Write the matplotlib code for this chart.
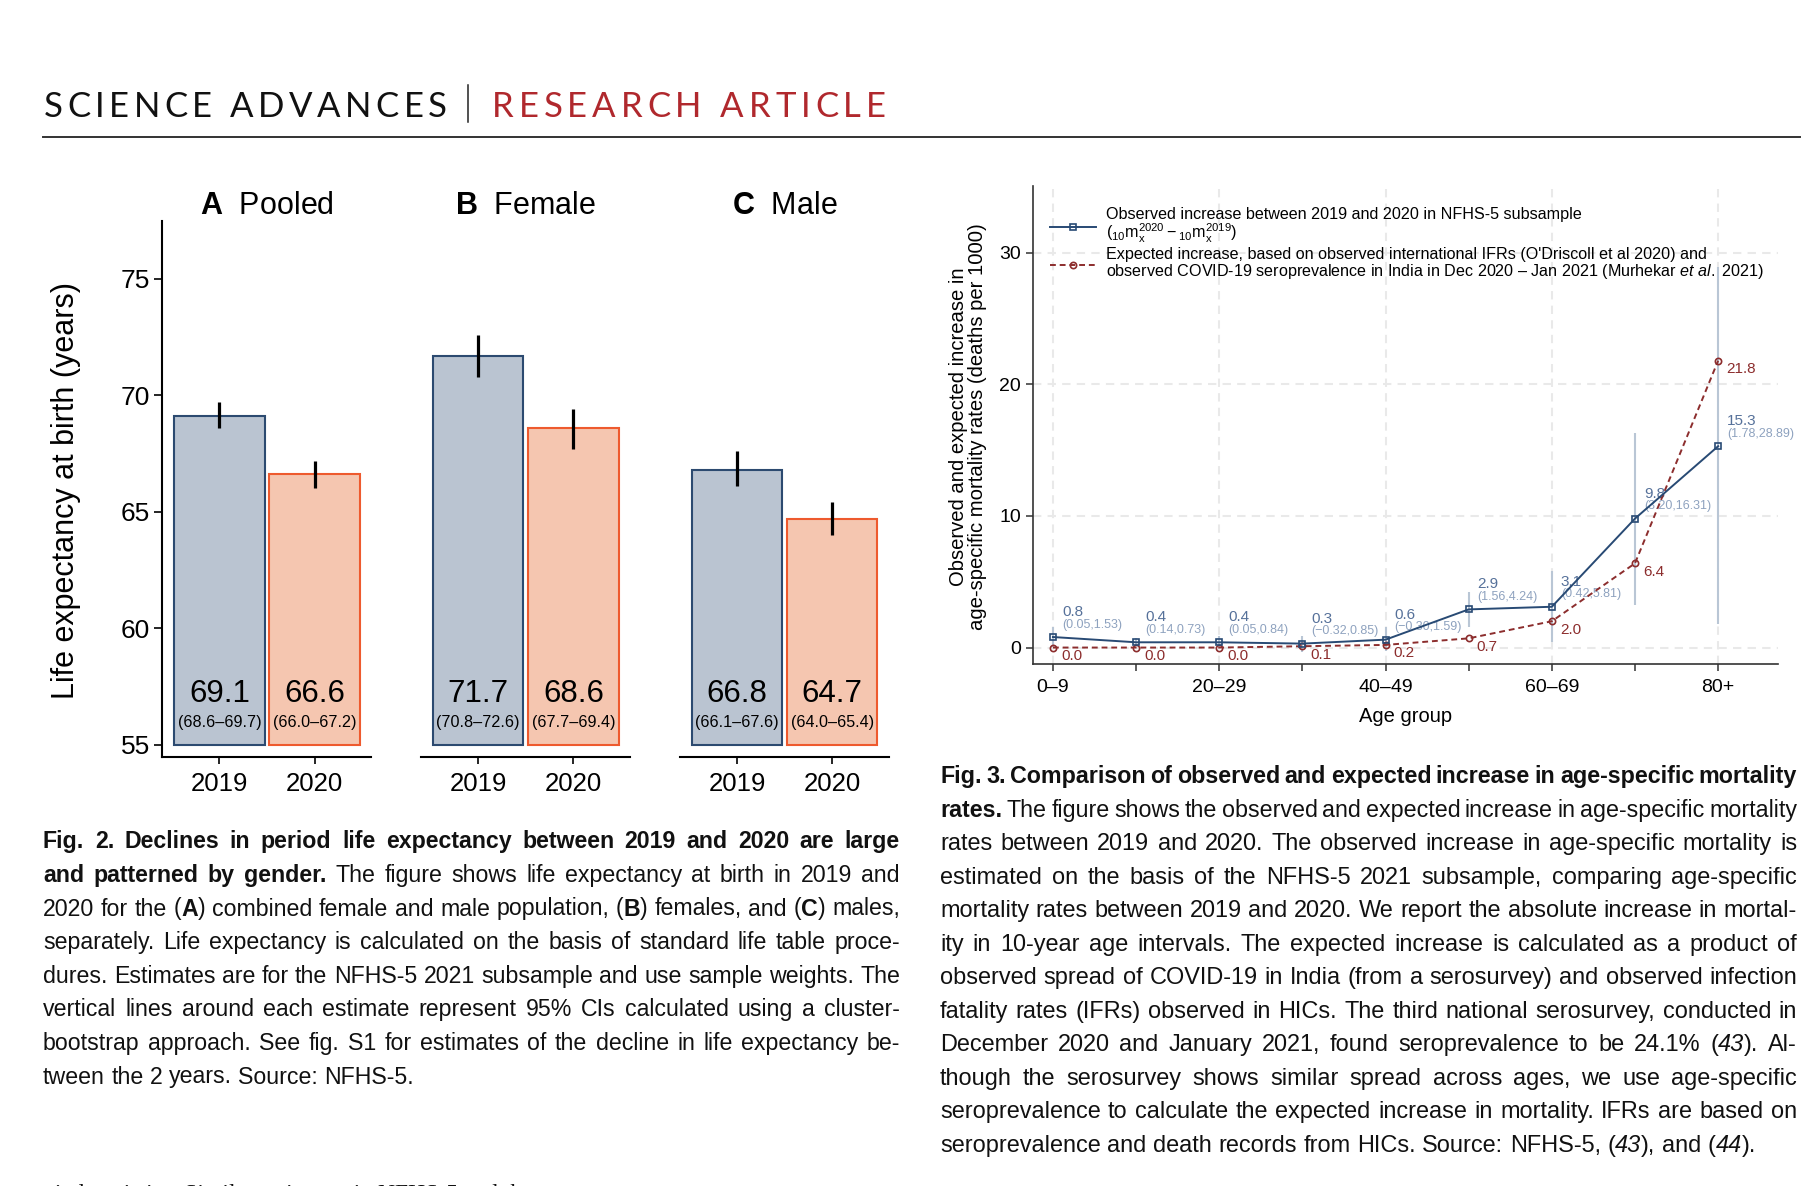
import matplotlib
matplotlib.use("Agg")
import matplotlib.pyplot as plt
from matplotlib.font_manager import FontProperties, fontManager
from matplotlib.lines import Line2D

W, H = 1820, 1186

# ---- Fig. 2 data: life expectancy at birth ----
panel_letters = ["A", "B", "C"]
panel_names = ["Pooled", "Female", "Male"]
years = ["2019", "2020"]
le_2019 = [69.1, 71.7, 66.8]
le_2019_lo = [68.6, 70.8, 66.1]
le_2019_hi = [69.7, 72.6, 67.6]
le_2020 = [66.6, 68.6, 64.7]
le_2020_lo = [66.0, 67.7, 64.0]
le_2020_hi = [67.2, 69.4, 65.4]

# ---- Fig. 3 data: increase in age-specific mortality (per 1000) ----
age_groups = ["0–9", "10–19", "20–29", "30–39", "40–49", "50–59", "60–69", "70–79", "80+"]
observed = [0.8, 0.4, 0.4, 0.3, 0.6, 2.9, 3.1, 9.8, 15.3]
obs_lo = [0.05, 0.14, 0.05, -0.32, -0.30, 1.56, 0.42, 3.20, 1.78]
obs_hi = [1.53, 0.73, 0.84, 0.85, 1.59, 4.24, 5.81, 16.31, 28.89]
expected = [0.0, 0.0, 0.0, 0.1, 0.2, 0.7, 2.0, 6.4, 21.8]

names = {f.name for f in fontManager.ttflist}
plot_font = "Liberation Sans" if "Liberation Sans" in names else "DejaVu Sans"
cap_font = plot_font
head_font = "Lato" if "Lato" in names else plot_font

plt.rcParams["font.family"] = [plot_font, "DejaVu Sans"]
plt.rcParams["mathtext.fontset"] = "custom"
plt.rcParams["mathtext.rm"] = plot_font
plt.rcParams["mathtext.it"] = plot_font + ":italic"
plt.rcParams["mathtext.bf"] = plot_font + ":bold"

fig = plt.figure(figsize=(W / 100, H / 100), dpi=100)
rend = fig.canvas.get_renderer()


def px_axes(x0, y0, x1, y1):
    return fig.add_axes([x0 / W, 1 - y1 / H, (x1 - x0) / W, (y1 - y0) / H])


def fx(x):
    return x / W


def fy(y):
    return 1 - y / H


def text_w(s, fp):
    w, h, d = rend.get_text_width_height_descent(s, fp, ismath=False)
    return w


# ---------------- header ----------------
def tracked(s, x0, x1, y, fp, color):
    sp = text_w("I I", fp) - text_w("II", fp)
    ws = [text_w(c, fp) if c != " " else sp for c in s]
    track = (x1 - x0 - sum(ws)) / (len(s) - 1)
    x = x0
    for c, w in zip(s, ws):
        if c != " ":
            fig.text(fx(x), fy(y), c, fontproperties=fp, color=color, va="baseline", ha="left")
        x += w + track


hfp = FontProperties(family=head_font, size=25)
tracked("SCIENCE ADVANCES", 44, 447, 117, hfp, "#111111")
tracked("RESEARCH ARTICLE", 492, 886, 117, hfp, "#b0282d")
fig.add_artist(Line2D([fx(468), fx(468)], [fy(85), fy(122)], color="#222222", lw=1.1))
fig.add_artist(Line2D([fx(43), fx(1800)], [fy(137), fy(137)], color="#333333", lw=1.4))

# ---------------- Fig. 2 bars ----------------
c19_face, c19_edge = "#bac4d1", "#2c4a70"
c20_face, c20_edge = "#f5c6b0", "#ee5a2e"
unit = 95.2
centers0 = [219.4, 478.2, 737.0]
for k in range(3):
    x0 = centers0[k] - 0.598 * unit
    ax = px_axes(x0, 220.5, x0 + 2.195 * unit, 756.8)
    ax.set_xlim(-0.598, 1.597)
    ax.set_ylim(54.485, 77.5)
    vals = [le_2019[k], le_2020[k]]
    los = [le_2019_lo[k], le_2020_lo[k]]
    his = [le_2019_hi[k], le_2020_hi[k]]
    ax.bar([0, 1], [v - 55 for v in vals], bottom=55, width=0.95,
           color=[c19_face, c20_face], edgecolor=[c19_edge, c20_edge], linewidth=1.5, zorder=2)
    ax.errorbar([0, 1], vals, yerr=[[v - l for v, l in zip(vals, los)], [h - v for v, h in zip(vals, his)]],
                fmt="none", ecolor="black", elinewidth=2.3, capsize=0, zorder=3)
    for i in range(2):
        ax.text(i, 57.2, f"{vals[i]:.1f}", ha="center", va="center", fontsize=22.5, zorder=4)
        ax.text(i, 55.94, f"({los[i]:.1f}–{his[i]:.1f})", ha="center", va="center", fontsize=11.6, zorder=4)
    for s in ["top", "right"]:
        ax.spines[s].set_visible(False)
    ax.spines["bottom"].set_linewidth(1.5)
    ax.set_xticks([0, 1], labels=years)
    ax.tick_params(axis="x", labelsize=18.5, length=5, width=1.2, pad=6)
    if k == 0:
        ax.spines["left"].set_linewidth(1.5)
        ax.set_yticks([55, 60, 65, 70, 75])
        ax.tick_params(axis="y", labelsize=19, length=6, width=1.2, pad=3)
    else:
        ax.spines["left"].set_visible(False)
        ax.set_yticks([])
    ax.set_title(rf"$\mathbf{{{panel_letters[k]}}}$  {panel_names[k]}", fontsize=22, pad=3)

fig.text(fx(66), fy(490), "Life expectancy at birth (years)", rotation=90,
         ha="center", va="center", fontsize=22)

# ---------------- Fig. 3 lines ----------------
obs_c, obs_lab, obs_ci_lab, ci_c = "#284a74", "#56719a", "#8ea2bf", "#b9c6d5"
exp_c = "#8c2d2d"
ax = px_axes(1033, 185.7, 1778, 664)
x = list(range(len(age_groups)))
ax.set_xlim(-0.24, 8.72)
ax.set_ylim(-1.25, 35.1)
ax.vlines(x, obs_lo, obs_hi, color=ci_c, lw=1.5, zorder=1.8)
ax.plot(x, expected, color=exp_c, lw=1.4, ls=(0, (3, 2)), marker="o", ms=4.5, mfc="none",
        mec=exp_c, mew=1.2, zorder=3)
ax.plot(x, observed, color=obs_c, lw=1.4, marker="s", ms=4.8, mfc="none", mec=obs_c, mew=1.2, zorder=4)
for i in x:
    ax.annotate(f"{observed[i]:.1f}", (i, observed[i]), xytext=(6.5, 18), textcoords="offset points",
                ha="left", va="center", fontsize=11, color=obs_lab, zorder=1.5)
    ci = f"({obs_lo[i]:.2f},{obs_hi[i]:.2f})".replace("-", "−")
    ax.annotate(ci, (i, observed[i]), xytext=(6.5, 9), textcoords="offset points",
                ha="left", va="center", fontsize=9, color=obs_ci_lab, zorder=1.5)
    ax.annotate(f"{expected[i]:.1f}", (i, expected[i]), xytext=(5.8, -6), textcoords="offset points",
                ha="left", va="center", fontsize=11, color=exp_c, zorder=1.5)

ax.set_xticks(x[::2], labels=age_groups[::2])
ax.set_xticks(x[1::2], minor=True)
ax.set_yticks([0, 10, 20, 30])
ax.tick_params(axis="both", which="both", labelsize=14, length=5, width=1.1, color="#333333")
ax.tick_params(axis="x", pad=6)
ax.grid(True, which="major", color="#e9e9e9", ls=(0, (4, 3)), lw=1.5)
ax.set_axisbelow(True)
for s in ["top", "right"]:
    ax.spines[s].set_visible(False)
for s in ["left", "bottom"]:
    ax.spines[s].set_linewidth(1.2)
    ax.spines[s].set_color("#333333")
ax.set_xlabel("Age group", fontsize=14.5, labelpad=8)
fig.text(fx(968), fy(427), "Observed and expected increase in\nage-specific mortality rates (deaths per 1000)",
         rotation=90, ha="center", va="center", multialignment="center", fontsize=14.6, linespacing=0.95)

handles = [
    Line2D([], [], color=obs_c, lw=1.4, marker="s", ms=4.8, mfc="none", mec=obs_c, mew=1.2),
    Line2D([], [], color=exp_c, lw=1.4, ls=(0, (3, 2)), marker="o", ms=4.5, mfc="none", mec=exp_c, mew=1.2),
]
labels = [
    "Observed increase between 2019 and 2020 in NFHS-5 subsample\n"
    r"(${}_{10}\mathrm{m}_{\mathrm{x}}^{2020} - {}_{10}\mathrm{m}_{\mathrm{x}}^{2019}$)",
    "Expected increase, based on observed international IFRs (O'Driscoll et al 2020) and\n"
    r"observed COVID-19 seroprevalence in India in Dec 2020 – Jan 2021 (Murhekar $\mathit{et\ al.}$ 2021)",
]
leg = ax.legend(handles, labels, loc="upper left", bbox_to_anchor=(0.023, 0.955), frameon=False,
                fontsize=11.6, borderaxespad=0, borderpad=0, handlelength=2.85, handletextpad=0.6,
                labelspacing=0.12, numpoints=1)
for t in leg.get_texts():
    t.set_linespacing(1.0)


# ---------------- captions ----------------
def line_words(segs):
    words, cur = [], []
    for txt, st in segs:
        for k, p in enumerate(txt.split(" ")):
            if k > 0 and cur:
                words.append(cur)
                cur = []
            if p:
                cur.append((p, st))
    if cur:
        words.append(cur)
    return words


def cap_fonts(sz):
    return {"r": FontProperties(family=cap_font, size=sz),
            "b": FontProperties(family=cap_font, size=sz, weight="bold"),
            "i": FontProperties(family=cap_font, size=sz, style="italic")}


def measure(words, sz):
    fps = cap_fonts(sz)
    sp = text_w("a a", fps["r"]) - text_w("aa", fps["r"])
    wws = [[text_w(p, fps[st]) for p, st in wd] for wd in words]
    return fps, sp, wws


def paragraph(lines, x0, x1, y0, dy, base):
    width = x1 - x0
    all_words = [line_words(s) for s in lines]
    # fit the font size on the regular (non-bold, non-final) lines
    widest = 0
    for li, (segs, words) in enumerate(zip(lines, all_words)):
        if li == len(lines) - 1 or any(st == "b" for _, st in segs):
            continue
        fps, sp, wws = measure(words, base)
        widest = max(widest, sum(sum(w) for w in wws) + sp * (len(words) - 1))
    size = base * width / widest
    for li, words in enumerate(all_words):
        last = li == len(lines) - 1
        sz = size
        while True:
            fps, sp, wws = measure(words, sz)
            tot = sum(sum(w) for w in wws)
            if last or tot + 0.6 * sp * (len(words) - 1) <= width:
                break
            sz *= 0.99
        gap = sp if last else (width - tot) / (len(words) - 1)
        xx = x0
        y = y0 + li * dy
        for wd, ws in zip(words, wws):
            for (p, st), w in zip(wd, ws):
                fig.text(fx(xx), fy(y), p, fontproperties=fps[st], ha="left", va="baseline", color="#111111")
                xx += w
            xx += gap


cap2 = [
    [("Fig. 2. Declines in period life expectancy between 2019 and 2020 are large", "b")],
    [("and patterned by gender.", "b"), (" The figure shows life expectancy at birth in 2019 and", "r")],
    [("2020 for the (", "r"), ("A", "b"), (") combined female and male population, (", "r"), ("B", "b"),
     (") females, and (", "r"), ("C", "b"), (") males,", "r")],
    [("separately. Life expectancy is calculated on the basis of standard life table proce-", "r")],
    [("dures. Estimates are for the NFHS-5 2021 subsample and use sample weights. The", "r")],
    [("vertical lines around each estimate represent 95% CIs calculated using a cluster-", "r")],
    [("bootstrap approach. See fig. S1 for estimates of the decline in life expectancy be-", "r")],
    [("tween the 2 years. Source: NFHS-5.", "r")],
]
cap3 = [
    [("Fig. 3. Comparison of observed and expected increase in age-specific mortality", "b")],
    [("rates.", "b"), (" The figure shows the observed and expected increase in age-specific mortality", "r")],
    [("rates between 2019 and 2020. The observed increase in age-specific mortality is", "r")],
    [("estimated on the basis of the NFHS-5 2021 subsample, comparing age-specific", "r")],
    [("mortality rates between 2019 and 2020. We report the absolute increase in mortal-", "r")],
    [("ity in 10-year age intervals. The expected increase is calculated as a product of", "r")],
    [("observed spread of COVID-19 in India (from a serosurvey) and observed infection", "r")],
    [("fatality rates (IFRs) observed in HICs. The third national serosurvey, conducted in", "r")],
    [("December 2020 and January 2021, found seroprevalence to be 24.1% (", "r"), ("43", "i"), ("). Al-", "r")],
    [("though the serosurvey shows similar spread across ages, we use age-specific", "r")],
    [("seroprevalence to calculate the expected increase in mortality. IFRs are based on", "r")],
    [("seroprevalence and death records from HICs. Source: NFHS-5, (", "r"), ("43", "i"), ("), and (", "r"),
     ("44", "i"), (").", "r")],
]
paragraph(cap2, 43, 900, 848.3, 33.6, 13.4)
paragraph(cap3, 940, 1797, 783.3, 33.5, 13.4)

# cut-off body text line at the bottom edge of the page
fig.text(fx(43), fy(1200), "vital statistics. Similar estimates in NFHS-5 and the", family="Liberation Serif",
         fontsize=17, ha="left", va="baseline", color="#111111")

fig.savefig("out.png", dpi=100)
